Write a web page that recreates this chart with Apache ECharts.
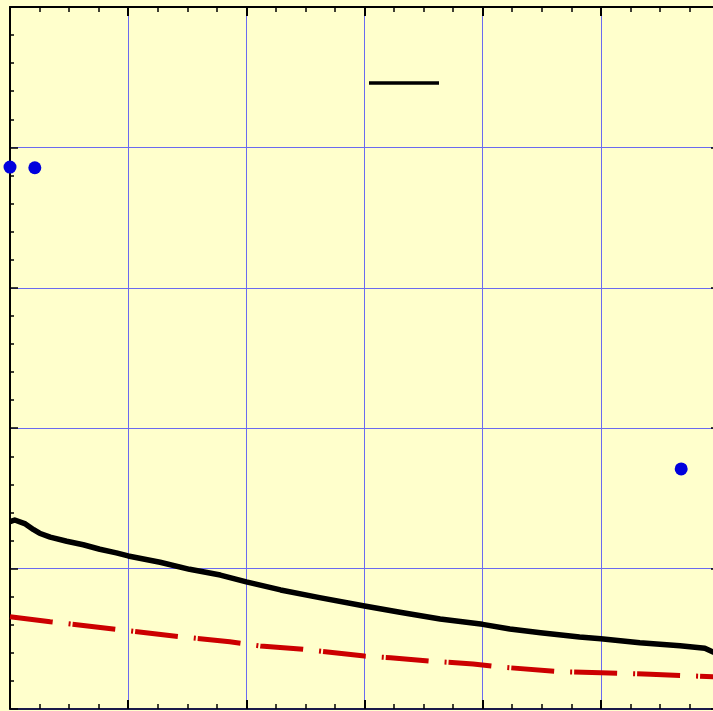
<!DOCTYPE html>
<html>
<head>
<meta charset="utf-8">
<script src="https://cdn.jsdelivr.net/npm/echarts@6/dist/echarts.min.js"></script>
<style>
  html, body { margin: 0; padding: 0; background: #ffffcc; }
  #chart { width: 713px; height: 711px; }
</style>
</head>
<body>
<div id="chart"></div>
<script>
// Measured points (x, y)
const dotPoints = [[0.0, 3.86], [0.21, 3.855], [5.68, 1.71]];

const solidX = [0, 0.04, 0.13, 0.2, 0.25, 0.34, 0.48, 0.62, 0.76, 0.9, 1.0, 1.27, 1.52, 1.78, 2.0, 2.29, 2.62, 3.0, 3.3, 3.64, 4.0, 4.23, 4.49, 4.82, 5.0, 5.33, 5.67, 5.88, 5.95, 6.0];
const solidY = [1.334, 1.346, 1.318, 1.277, 1.252, 1.224, 1.195, 1.170, 1.138, 1.112, 1.09, 1.045, 0.995, 0.954, 0.905, 0.848, 0.793, 0.734, 0.689, 0.641, 0.603, 0.57, 0.543, 0.513, 0.501, 0.472, 0.451, 0.432, 0.406, 0.39];

const dashX = [0, 0.34, 1.0, 1.44, 1.86, 2.12, 2.48, 3.0, 3.22, 3.55, 3.92, 4.15, 4.65, 5.0, 5.42, 5.95, 6.0];
const dashY = [0.657, 0.622, 0.558, 0.515, 0.479, 0.449, 0.425, 0.377, 0.365, 0.341, 0.321, 0.299, 0.266, 0.259, 0.247, 0.23, 0.229];

const xTicks = [0, 1, 2, 3, 4, 5, 6];
const yTicks = [0, 1, 2, 3, 4, 5];

const zip = (xs, ys) => xs.map((x, i) => [x, ys[i]]);

const gridColor = '#6a6af0';
const chart = echarts.init(document.getElementById('chart'));

function xAxis(pos, showSplit, lineColor) {
  return {
    type: 'value', position: pos, min: xTicks[0], max: xTicks[xTicks.length - 1], interval: 1,
    axisLine: { show: true, onZero: false, lineStyle: { color: lineColor, width: 2 } },
    axisTick: { show: true, inside: true, length: 9, lineStyle: { color: '#000', width: 2 } },
    minorTick: { show: true, splitNumber: 4, length: 5, lineStyle: { color: '#000', width: 1.5 } },
    axisLabel: { show: false },
    splitLine: { show: showSplit, lineStyle: { color: gridColor, width: 1 } }
  };
}
function yAxis(pos, showSplit) {
  return {
    type: 'value', position: pos, min: yTicks[0], max: yTicks[yTicks.length - 1], interval: 1,
    axisLine: { show: true, onZero: false, lineStyle: { color: '#000', width: 2 } },
    axisTick: { show: true, inside: true, length: 8, lineStyle: { color: '#000', width: 1.5 } },
    minorTick: { show: true, splitNumber: 5, length: 4, lineStyle: { color: '#000', width: 1.5 } },
    axisLabel: { show: false },
    splitLine: { show: showSplit, lineStyle: { color: gridColor, width: 1 } }
  };
}

chart.setOption({
  backgroundColor: '#ffffcc',
  animation: false,
  grid: { left: 10, top: 7, width: 709, bottom: 2, containLabel: false, outerBoundsMode: 'none' },
  xAxis: [xAxis('bottom', true, '#1a1a4a'), xAxis('top', false, '#000')],
  yAxis: [yAxis('left', true), yAxis('right', false)],
  graphic: [{
    type: 'line', shape: { x1: 369, y1: 83, x2: 439, y2: 83 },
    style: { stroke: '#000', lineWidth: 3.5 }, z: 10
  }],
  series: [
    {
      type: 'line', data: zip(solidX, solidY), showSymbol: false, smooth: false,
      lineStyle: { color: '#000', width: 5.5, join: 'round' }, z: 3
    },
    {
      type: 'line', data: zip(dashX, dashY), showSymbol: false, smooth: false,
      lineStyle: { color: '#cc0000', width: 5, type: [43, 16, 2, 2] }, z: 3
    },
    {
      type: 'scatter', data: dotPoints, symbolSize: 13,
      itemStyle: { color: '#0000dd', opacity: 1 }, z: 4
    }
  ]
});
</script>
</body>
</html>
